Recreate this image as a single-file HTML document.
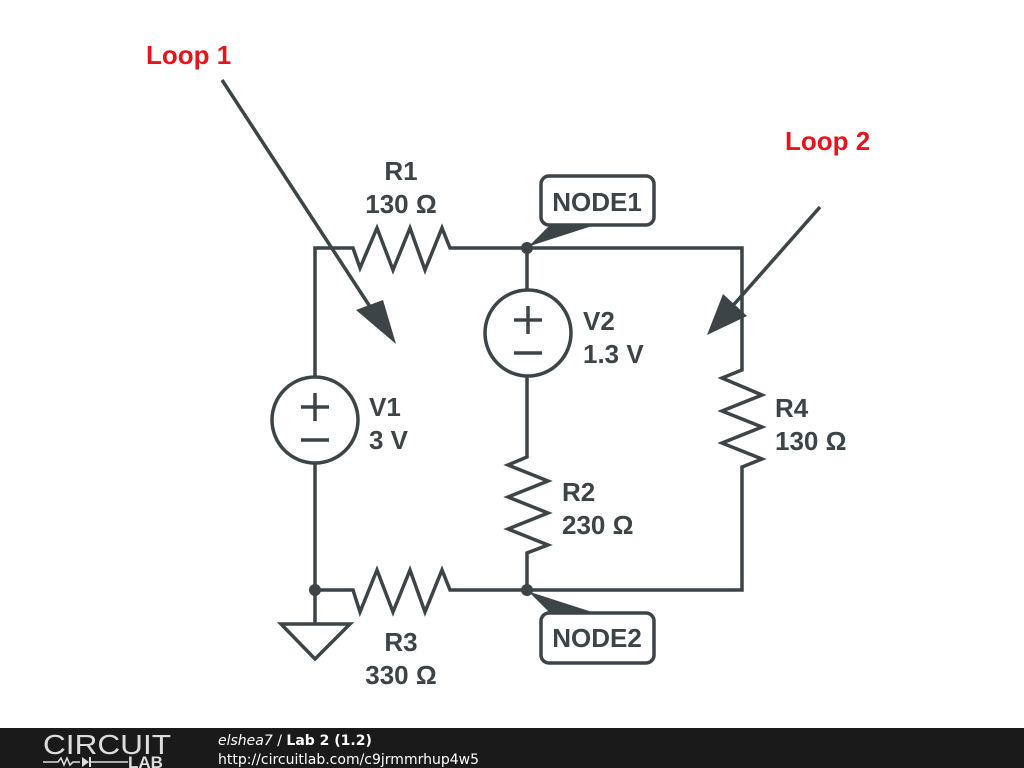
<!DOCTYPE html>
<html><head><meta charset="utf-8"><style>
html,body{margin:0;padding:0;background:#fff;width:1024px;height:768px;overflow:hidden}
svg{display:block}
</style></head><body>
<svg width="1024" height="768" viewBox="0 0 1024 768" xmlns="http://www.w3.org/2000/svg">
<g stroke="#3d4448" stroke-width="3.5" fill="none" stroke-linejoin="miter">
<polyline points="315,377 315,248 353,248 360,268 377,228 393,270 410,228 425,270 442,228 450,248 742,248 742,370 722,378 762,395 722,411 762,427 722,443 762,459 742,467 742,590 527,590"/>
<polyline points="527,248 527,290"/>
<polyline points="527,376 527,457 508,465 548,481 508,497 548,513 508,529 548,545 527,553 527,590"/>
<polyline points="527,590 450,590 442,570 425,612 410,570 393,612 377,570 360,612 353,590 315,590 315,463"/>
<polyline points="315,590 315,624"/>
<polygon points="281,624 350,624 315,659"/>
<circle cx="528" cy="333" r="43"/>
<circle cx="315" cy="420" r="43"/>
<line x1="514" y1="320" x2="542" y2="320"/><line x1="528" y1="306" x2="528" y2="334"/>
<line x1="514" y1="353" x2="542" y2="353"/>
<line x1="301" y1="407" x2="329" y2="407"/><line x1="315" y1="393" x2="315" y2="421"/>
<line x1="301" y1="440" x2="329" y2="440"/>
<line x1="222" y1="80" x2="380" y2="322"/>
<line x1="820" y1="207" x2="722" y2="318"/>
<rect x="541" y="176" width="113" height="49" rx="8"/>
<rect x="541" y="613" width="113" height="50" rx="8"/>
</g>
<g fill="#3d4448">
<circle cx="527" cy="248" r="6"/><circle cx="527" cy="590" r="6"/><circle cx="315" cy="590" r="6"/>
<polygon points="356,310 396,344 383,300"/>
<polygon points="707,335 747,316 723,294"/>
<polygon points="527,248 549,226 592,226 530,246"/>
<polygon points="527,590 549,612 592,612 530,592"/>
</g>
<g font-family="Liberation Sans, sans-serif" font-weight="bold" font-size="26" fill="#3d4448">
<text x="401" y="180" text-anchor="middle">R1</text>
<text x="401" y="213" text-anchor="middle">130 Ω</text>
<text x="597" y="211" text-anchor="middle">NODE1</text>
<text x="597" y="647" text-anchor="middle">NODE2</text>
<text x="583" y="330">V2</text>
<text x="583" y="363">1.3 V</text>
<text x="369" y="416">V1</text>
<text x="369" y="449">3 V</text>
<text x="775" y="417">R4</text>
<text x="775" y="450">130 Ω</text>
<text x="562" y="501">R2</text>
<text x="562" y="534">230 Ω</text>
<text x="401" y="651" text-anchor="middle">R3</text>
<text x="401" y="684" text-anchor="middle">330 Ω</text>
</g>
<g font-family="Liberation Sans, sans-serif" font-weight="bold" font-size="26" fill="#e8141b">
<text x="146" y="64">Loop 1</text>
<text x="785" y="150">Loop 2</text>
</g>
<rect x="0" y="728" width="1024" height="40" fill="#1a1a1a"/>
<text x="43" y="754" font-family="Liberation Sans, sans-serif" font-size="28" fill="#ddd" textLength="128" lengthAdjust="spacingAndGlyphs">CIRCUIT</text>
<polyline points="43,762 58,762 61,758 64,765 67,758 70,765 73,762 80,762" stroke="#ddd" stroke-width="1.5" fill="none"/>
<polygon points="82,757 82,767 89,762" fill="#ddd"/>
<line x1="90" y1="757" x2="90" y2="767" stroke="#ddd" stroke-width="2"/>
<line x1="90" y1="762" x2="128" y2="762" stroke="#ddd" stroke-width="1.5"/>
<text x="128" y="768" font-family="Liberation Sans, sans-serif" font-weight="bold" font-size="17" fill="#ddd">LAB</text>
<text x="218" y="745" font-family="DejaVu Sans, sans-serif" font-size="14" fill="#fff"><tspan font-style="italic">elshea7</tspan> / <tspan font-weight="bold">Lab 2 (1.2)</tspan></text>
<text x="218" y="764" font-family="DejaVu Sans, sans-serif" font-size="14" fill="#fff">http://circuitlab.com/c9jrmmrhup4w5</text>
</svg>
</body></html>
